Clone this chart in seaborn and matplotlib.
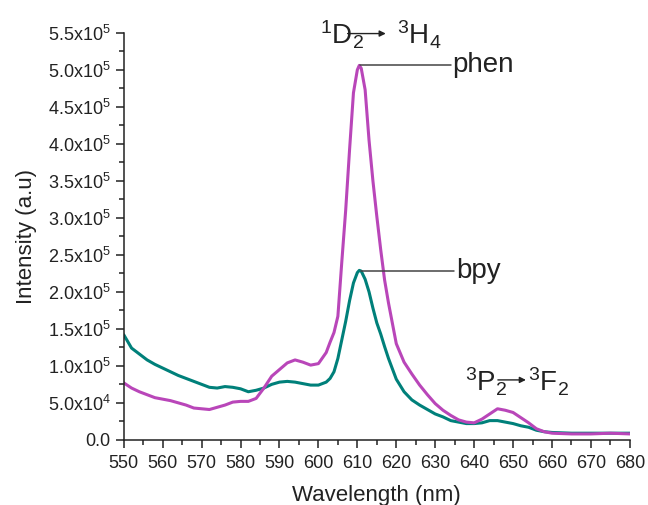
import numpy as np
import pandas as pd
import matplotlib
matplotlib.use("Agg")
import matplotlib.pyplot as plt
from matplotlib.ticker import MultipleLocator
import seaborn as sns

# emission spectra (intensity in units of 1e5)
wavelength = [550, 552, 554, 556, 558, 560, 562, 564, 566, 568, 570, 572, 574, 576, 578,
              580, 582, 584, 586, 588, 590, 592, 594, 596, 598, 600, 602, 603, 604, 605,
              606, 607, 608, 609, 610, 610.5, 611, 612, 613, 614, 615, 616, 617, 618, 620,
              622, 624, 626, 628, 630, 632, 634, 636, 638, 640, 642, 644, 646, 648, 650,
              652, 654, 656, 658, 660, 665, 670, 675, 680]

bpy = [1.42, 1.24, 1.16, 1.08, 1.02, 0.97, 0.92, 0.87, 0.83, 0.79, 0.75, 0.71, 0.70, 0.72, 0.71,
       0.69, 0.65, 0.67, 0.70, 0.75, 0.78, 0.79, 0.78, 0.76, 0.74, 0.74, 0.78, 0.83, 0.92, 1.10,
       1.35, 1.60, 1.88, 2.12, 2.26, 2.29, 2.28, 2.17, 2.00, 1.78, 1.58, 1.43, 1.26, 1.10, 0.82,
       0.65, 0.54, 0.47, 0.41, 0.35, 0.31, 0.26, 0.24, 0.22, 0.22, 0.23, 0.26, 0.26, 0.24, 0.22,
       0.19, 0.17, 0.13, 0.11, 0.10, 0.09, 0.09, 0.09, 0.09]

phen = [0.77, 0.70, 0.65, 0.61, 0.57, 0.55, 0.53, 0.50, 0.47, 0.43, 0.42, 0.41, 0.44, 0.47, 0.51,
        0.52, 0.52, 0.56, 0.70, 0.86, 0.95, 1.04, 1.08, 1.05, 1.01, 1.03, 1.18, 1.32, 1.45, 1.67,
        2.40, 3.10, 3.92, 4.69, 5.00, 5.06, 5.02, 4.73, 4.05, 3.50, 3.02, 2.57, 2.16, 1.85, 1.30,
        1.05, 0.89, 0.74, 0.61, 0.49, 0.40, 0.33, 0.27, 0.24, 0.23, 0.28, 0.35, 0.42, 0.40, 0.37,
        0.30, 0.23, 0.15, 0.11, 0.09, 0.08, 0.08, 0.09, 0.08]

ytick_vals = [0, 0.5e5, 1.0e5, 1.5e5, 2.0e5, 2.5e5, 3.0e5, 3.5e5, 4.0e5, 4.5e5, 5.0e5, 5.5e5]
ytick_labels = ["0.0", "5.0x10$^{4}$", "1.0x10$^{5}$", "1.5x10$^{5}$", "2.0x10$^{5}$",
                "2.5x10$^{5}$", "3.0x10$^{5}$", "3.5x10$^{5}$", "4.0x10$^{5}$",
                "4.5x10$^{5}$", "5.0x10$^{5}$", "5.5x10$^{5}$"]

df = pd.DataFrame({"wl": wavelength,
                   "bpy": np.array(bpy) * 1e5,
                   "phen": np.array(phen) * 1e5})

sns.set_style("ticks")
plt.rcParams["font.family"] = ["Liberation Sans", "DejaVu Sans"]
plt.rcParams["mathtext.fontset"] = "custom"
plt.rcParams["mathtext.rm"] = "Liberation Sans"
plt.rcParams["mathtext.it"] = "Liberation Sans:italic"
plt.rcParams["mathtext.bf"] = "Liberation Sans:bold"

teal = "#00807A"
magenta = "#B946B9"
dark = "#222222"

fig = plt.figure(figsize=(6.48, 5.05), dpi=100)
ax = fig.add_axes([0.191, 0.129, 0.781, 0.806])

sns.lineplot(data=df, x="wl", y="bpy", color=teal, lw=2.2, ax=ax)
sns.lineplot(data=df, x="wl", y="phen", color=magenta, lw=2.2, ax=ax)

ax.set_xlim(550, 680)
ax.set_ylim(0, 5.5e5)
ax.xaxis.set_major_locator(MultipleLocator(10))
ax.xaxis.set_minor_locator(MultipleLocator(5))
ax.set_yticks(ytick_vals)
ax.set_yticklabels(ytick_labels)
ax.yaxis.set_minor_locator(MultipleLocator(0.25e5))
ax.tick_params(which="major", length=6, width=1.1, color=dark, labelsize=13, labelcolor=dark)
ax.tick_params(axis="x", which="major", pad=5)
ax.tick_params(which="minor", length=3.5, width=1.1, color=dark)
for s in ["left", "bottom"]:
    ax.spines[s].set_linewidth(1.1)
    ax.spines[s].set_color(dark)
sns.despine(ax=ax)

ax.set_xlabel("Wavelength (nm)", fontsize=16, color=dark, labelpad=9)
ax.set_ylabel("Intensity (a.u)", fontsize=16, color=dark, labelpad=8)

# series labels with leader lines
ax.plot([610.6, 634.0], [5.07e5, 5.07e5], color="#444444", lw=1.1, clip_on=False)
ax.text(634.4, 5.07e5, "phen", fontsize=20, color=dark, va="center", ha="left")
ax.plot([610.9, 634.8], [2.28e5, 2.28e5], color="#444444", lw=1.1, clip_on=False)
ax.text(635.4, 2.28e5, "bpy", fontsize=20, color=dark, va="center", ha="left")

# transitions
arrow = dict(arrowstyle="-|>", color=dark, lw=1.0, mutation_scale=9, shrinkA=0, shrinkB=0)
ax.text(600.3, 5.34e5, "$^{1}$D$_{2}$", fontsize=20, color=dark, va="baseline", ha="left", clip_on=False)
ax.annotate("", xy=(617.3, 5.49e5), xytext=(607.5, 5.49e5), arrowprops=arrow, annotation_clip=False)
ax.text(620.1, 5.34e5, "$^{3}$H$_{4}$", fontsize=20, color=dark, va="baseline", ha="left", clip_on=False)

ax.text(637.6, 0.65e5, "$^{3}$P$_{2}$", fontsize=20, color=dark, va="baseline", ha="left")
ax.annotate("", xy=(653.3, 0.81e5), xytext=(646.1, 0.81e5), arrowprops=arrow)
ax.text(653.8, 0.65e5, "$^{3}$F$_{2}$", fontsize=20, color=dark, va="baseline", ha="left")

fig.savefig("out.png", dpi=100)
